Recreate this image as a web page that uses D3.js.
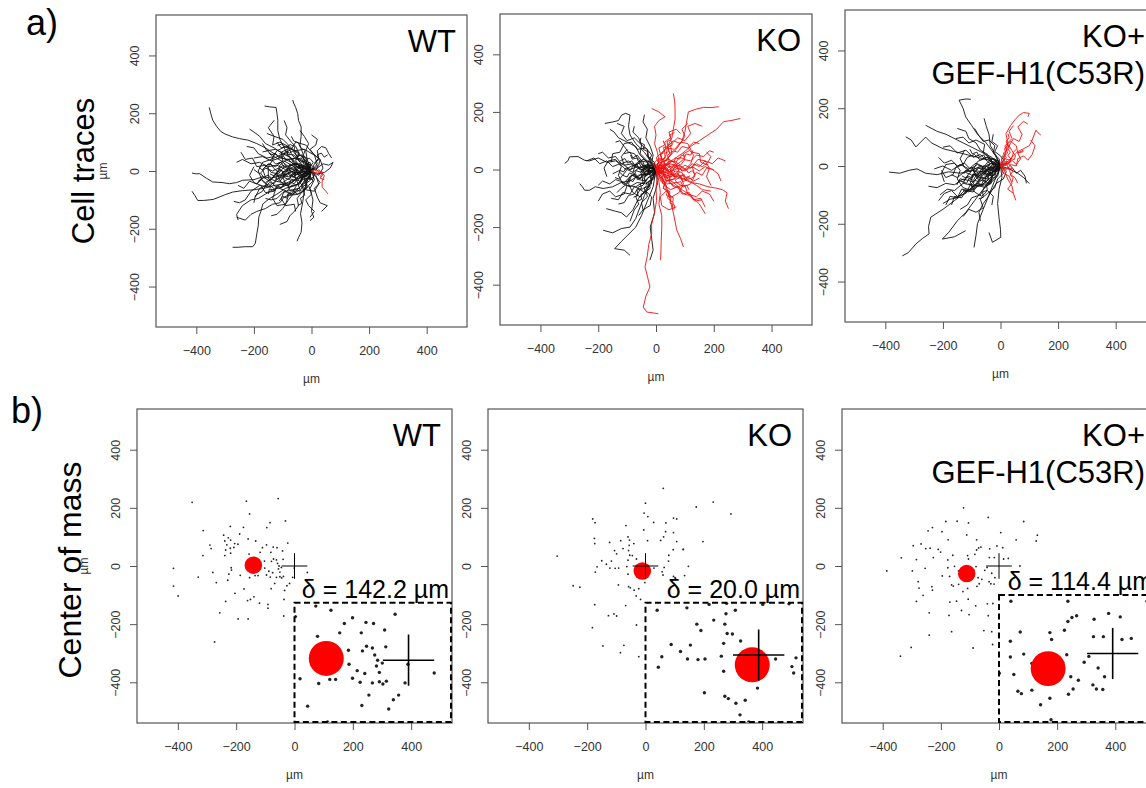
<!DOCTYPE html>
<html>
<head>
<meta charset="utf-8">
<script src="https://cdn.jsdelivr.net/npm/d3@7"></script>
<style>
  body { margin: 0; background: #fff; }
  svg { display: block; font-family: "Liberation Sans", Arial, sans-serif; }
</style>
</head>
<body>
<svg id="fig"></svg>
<script>
// ---- data (µm) ----
const axisDomain = [-540, 540];
const tickValues = [-400, -200, 0, 200, 400];
const conditions = [["WT"], ["KO"], ["KO+", "GEF-H1(C53R)"]];

// cell traces, flat x,y lists, one per cell
const wtBlack = [
  [0,0, -20,15, -45,10, -70,30, -100,45, -130,60, -160,80, -190,95, -221,107, -250,112, -274,118, -300,128, -314,136, -330,155, -343,176, -350,200, -355,220],
  [0,0, -10,20, -25,35, -30,60, -40,90, -36,120, -36,153, -45,175, -48,199, -55,220, -62,235, -65,246],
  [0,0, -15,-10, -40,5, -60,30, -80,55, -95,80, -110,110, -117,140, -117,176, -120,200, -123,220, -145,222, -163,225],
  [0,0, -20,-15, -50,-5, -80,-20, -110,-15, -140,-25, -170,-20, -200,-30, -239,-32, -260,-40, -285,-44, -310,-40, -343,-38, -365,-25, -389,-9, -400,-10, -415,-7],
  [0,0, -25,-20, -60,-30, -95,-45, -130,-50, -165,-60, -200,-65, -240,-68, -274,-73, -300,-82, -320,-90, -340,-98, -355,-100, -375,-102, -395,-102, -405,-85, -415,-70],
  [0,0, -30,-30, -55,-50, -90,-60, -120,-80, -145,-95, -169,-114, -176,-140, -183,-160, -185,-190, -190,-218, -195,-250, -204,-262, -230,-262, -255,-264, -274,-264],
  [0,0, -15,-35, -25,-70, -30,-105, -38,-148, -33,-180, -36,-212, -45,-230, -50,-243],
  [0,0, 10,-30, -5,-60, 5,-100, 0,-140, 8,-160, -5,-172],
  [0,0, -20,25, -45,40, -60,70, -85,95, -100,110, -130,120, -150,150, -129,176],
  [0,0, 20,10, 40,25, 60,20, 75,30, 65,10, 45,-5, 20,-10],
  [0,0, -10,-20, -30,-45, -60,-75, -80,-100, -100,-130, -120,-150, -140,-155],
  [0,0, -30,10, -60,15, -90,5, -120,20, -150,15, -180,30, -210,25, -240,40, -260,30],
  [0,0, -15,40, -20,70, -10,95, -25,120, -40,140],
  [0,0, -20,-5, -45,-25, -70,-20, -100,-40, -125,-35, -150,-55, -180,-50, -210,-70, -230,-100, -250,-110, -270,-105],
  [0,0, 15,-20, 30,-40, 10,-60, 20,-90, 30,-110, 55,-120, 35,-140],
  [0,0, -25,15, -55,25, -80,15, -105,35, -130,50, -155,45, -185,60, -200,80, -225,85],
  [0,0, -10,-25, -35,-30, -55,-55, -70,-80, -95,-90, -110,-110, -135,-115, -160,-130, -190,-140, -210,-150, -230,-170, -260,-160],
  [0,0, -35,-5, -60,-15, -75,5, -95,-5, -115,10, -135,0, -160,10, -180,-10, -200,5],
  [0,0, -20,35, -40,55, -55,85, -70,100, -90,125, -85,150, -95,175],
  [0,0, -5,-15, -20,-35, -15,-55, -35,-75, -50,-95, -45,-120, -60,-140, -75,-155, -85,-175, -110,-185],
  [0,0, -40,-15, -70,-40, -100,-55, -135,-65, -160,-80, -185,-95, -210,-100, -240,-120, -260,-150, -255,-170],
  [0,0, 10,25, 25,45, 20,70, 35,85, 50,80, 60,60, 70,45],
  [0,0, -45,20, -70,45, -100,60, -130,80, -160,95, -180,120, -200,135, -215,145],
  [0,0, -25,-10, -50,5, -85,-10, -110,-35, -130,-20, -155,-40, -170,-70, -195,-85, -200,-110],
  [0,0, -15,10, -25,-10, -45,-15, -55,10, -75,25, -85,0, -100,-20, -90,-45, -110,-60],
  [0,0, -5,30, -25,20, -35,45, -55,40, -70,60, -80,85, -105,80, -120,100],
  [0,0, 10,-10, 5,-30, -20,-25, -35,-50, -25,-70, -50,-80, -70,-65],
  [0,0, -30,-20, -40,-45, -70,-50, -85,-70, -100,-75, -120,-95, -140,-100, -160,-95],
  [0,0, 25,20, 30,40, 10,55, -5,75, 15,90, 20,110, 0,125],
  [0,0, -20,5, -35,25, -60,20, -80,40, -110,45, -140,35, -170,50, -200,45],
  [0,0, -10,-10, 5,-35, -10,-50, 0,-80, -20,-100, -10,-120, 10,-140, -5,-160],
  [0,0, -12,8, -20,-6, -35,2, -42,18, -58,12, -66,-4, -80,6, -92,22, -108,14, -115,-4, -130,8, -142,26, -158,18, -170,2, -182,14],
  [0,0, -8,-12, -22,-8, -30,-24, -46,-18, -55,-34, -70,-28, -78,-46, -94,-40, -104,-58, -120,-50, -128,-68, -146,-62, -150,-80],
  [0,0, -14,14, -10,30, -26,38, -34,56, -50,50, -62,66, -58,84, -74,92, -88,80, -102,94, -118,88],
  [0,0, 8,12, -4,24, -18,18, -24,34, -40,30, -48,46, -44,64, -60,72, -76,62, -90,70, -96,54, -112,60],
  [0,0, -18,-4, -26,-20, -44,-14, -52,-2, -70,-12, -76,-30, -92,-24, -100,-8, -118,-16, -126,-34, -142,-28, -160,-40, -174,-30, -190,-44],
  [0,0, -6,-20, -20,-30, -16,-46, -32,-54, -40,-70, -56,-64, -64,-82, -80,-76, -86,-94, -100,-88, -112,-104],
  [0,0, -20,10, -34,4, -44,22, -62,26, -70,42, -88,38, -98,52, -114,46, -126,62, -140,54, -152,70, -170,66],
  [0,0, 10,-6, 6,-22, -8,-28, -14,-14, -28,-20, -36,-38, -50,-30, -60,-44, -74,-38, -82,-56, -70,-70, -84,-84],
  [0,0, -10,6, -24,-2, -30,14, -48,8, -56,-8, -72,0, -84,-16, -98,-6, -110,-22, -126,-12, -138,-26, -150,-14, -166,-22, -176,-8],
  [0,0, -4,16, 6,30, -6,44, -20,40, -28,56, -22,72, -38,80, -46,98, -62,104, -70,120],
  [0,0, -16,-8, -28,4, -40,-10, -54,-4, -60,-20, -76,-16, -84,2, -100,-4, -104,-22, -120,-28, -130,-44, -146,-40, -160,-56],
  [0,0, 4,10, 16,2, 22,16, 12,30, 26,40, 20,56, 34,62, 44,48, 56,56],
  [0,0, -12,-16, -4,-32, -18,-42, -14,-58, -28,-66, -24,-84, -38,-94, -34,-112, -48,-120],
  [0,0, -22,16, -40,12, -52,28, -70,22, -80,8, -96,14, -106,30, -124,24, -138,38, -130,54, -148,62],
  [0,0, -10,-4, -18,10, -32,6, -38,-8, -52,-14, -58,2, -74,8, -80,-8, -96,-14, -104,2, -120,-2, -128,-18, -144,-10],
  [0,0, -20,30, -50,45, -85,40, -110,20, -120,-10, -105,-40, -75,-55, -45,-45, -30,-20, -50,5, -80,10, -100,-5],
  [0,0, -15,-35, -45,-60, -85,-70, -125,-55, -150,-25, -150,15, -130,45, -95,60, -60,55, -40,30],
  [0,0, 20,25, 10,55, -25,75, -60,70, -90,85, -120,70, -140,40, -170,30, -185,0, -170,-35, -140,-60],
  [0,0, -30,-10, -40,-40, -20,-65, 10,-70, 25,-45, 15,-15, -10,10, -40,25, -70,20, -95,35, -120,25],
  [0,0, -10,15, -40,20, -60,0, -55,-30, -80,-50, -110,-45, -130,-70, -160,-75, -175,-50, -200,-40, -215,-15, -200,15],
  [0,0, 25,-15, 40,10, 30,40, 5,60, -20,90, -55,100, -70,75, -95,60, -125,75, -155,70, -170,95],
  [0,0, -25,-20, -20,-55, -45,-80, -80,-85, -90,-115, -120,-120, -135,-95, -125,-65, -150,-45, -180,-60, -195,-90],
  [0,0, -35,10, -55,35, -45,60, -75,80, -105,65, -100,35, -125,15, -150,25, -170,5, -160,-20, -185,-35],
  [0,0, -5,-25, -30,-15, -50,-35, -40,-65, -65,-80, -95,-70, -105,-95, -90,-120, -60,-115, -55,-140],
  [0,0, -20,20, -15,45, -40,55, -65,40, -85,55, -80,85, -110,100, -135,90, -130,120, -155,130],
  [0,0, -45,-5, -65,20, -95,15, -115,-10, -140,-5, -160,20, -190,15, -205,45, -230,40, -245,65],
  [0,0, -15,-10, -35,5, -60,-20, -80,-5, -105,-25, -125,-10, -145,-35, -170,-20, -190,-45, -215,-35, -235,-60, -255,-50]
];
const wtRed = [
  [0,0, 15,5, 28,-3, 45,-15, 37,-35, 37,-56, 50,-70, 57,-79],
  [0,0, 20,-8, 35,0, 40,-12, 30,-25, 45,-30],
  [0,0, 12,-10, 25,5, 38,-8, 30,-20]
];

const koBlack = [
  [0,0, -25,10, -50,0, -80,20, -110,15, -140,30, -170,25, -200,40, -230,30, -247,32, -270,45, -299,44, -305,30, -316,21],
  [0,0, -30,-15, -60,-20, -90,-40, -120,-45, -150,-60, -183,-66, -210,-60, -230,-72, -247,-72, -255,-60, -264,-49],
  [0,0, -20,30, -40,60, -70,90, -90,120, -95,150, -90,189, -105,195, -119,189, -130,170, -150,165, -177,160],
  [0,0, -15,-40, -35,-70, -60,-100, -80,-140, -102,-165, -120,-150, -140,-145, -172,-136],
  [0,0, -20,-50, -40,-90, -55,-130, -70,-170, -90,-200, -120,-205, -150,-220, -183,-211],
  [0,0, -10,-60, -30,-110, -50,-160, -70,-200, -100,-230, -120,-250, -143,-275, -110,-280, -90,-298],
  [0,0, 5,-50, -10,-100, -5,-150, -20,-200, -15,-240, -10,-280, -21,-315],
  [0,0, -30,25, -55,50, -70,80, -100,95, -130,110, -145,130, -160,140],
  [0,0, -15,20, -10,50, -20,80, -35,110, -30,140, -45,165, -40,190],
  [0,0, -35,-5, -55,-30, -85,-20, -110,-45, -140,-35, -160,-50, -185,-40, -200,-55],
  [0,0, -20,15, -40,5, -55,25, -75,10, -95,30, -120,20, -140,45, -165,40, -185,60, -200,55],
  [0,0, -10,-20, -30,-30, -45,-55, -60,-60, -75,-85, -95,-90, -110,-115, -130,-120],
  [0,0, -25,-5, -40,15, -60,5, -80,-10, -100,0, -115,-20, -130,-5, -150,-15],
  [0,0, -5,25, -25,40, -30,70, -50,85, -60,110, -80,130, -75,150],
  [0,0, -20,-25, -15,-50, -35,-70, -30,-95, -50,-115, -45,-140, -60,-160],
  [0,0, -40,10, -60,35, -75,55, -95,60, -110,80, -125,100, -140,95],
  [0,0, -15,-10, -35,-5, -45,-25, -65,-35, -70,-15, -90,-25, -100,-50, -120,-65, -135,-80],
  [0,0, -10,10, -25,0, -20,-15, -35,-20, -45,0, -55,-10],
  [0,0, -5,-30, -25,-45, -20,-65, -40,-80, -55,-70, -70,-95, -60,-120, -75,-140, -90,-180],
  [0,0, -20,5, -30,25, -50,30, -65,50, -80,40, -90,60, -110,55],
  [0,0, -12,10, -24,0, -36,14, -50,6, -58,22, -74,16, -84,30, -98,22, -108,38, -124,30],
  [0,0, -10,-12, -24,-6, -32,-22, -46,-16, -54,-32, -70,-26, -80,-42, -94,-34, -104,-50, -120,-44],
  [0,0, -6,14, -20,22, -16,38, -30,46, -28,62, -44,70, -40,86, -56,94, -52,110],
  [0,0, -14,-4, -20,-18, -34,-12, -42,-28, -38,-44, -54,-50, -50,-66, -66,-72, -62,-90, -78,-96],
  [0,0, -18,6, -30,-4, -44,4, -52,-10, -68,-4, -76,-18, -92,-12, -100,-26, -116,-20, -126,-34, -142,-28],
  [0,0, -8,8, -20,4, -26,18, -40,14, -46,28, -60,26, -66,40, -82,36, -88,50],
  [0,0, -4,-14, -18,-20, -14,-36, -28,-42, -26,-58, -40,-64, -38,-80, -52,-86, -50,-104, -66,-110],
  [0,0, -16,2, -22,16, -38,12, -44,-2, -60,4, -66,18, -80,12, -88,-2, -104,6, -112,-8, -128,-2],
  [0,0, -20,25, -45,35, -70,20, -80,-10, -60,-35, -35,-40, -20,-20, -40,5, -65,10, -90,0, -110,15, -120,45, -100,70],
  [0,0, -10,-30, -35,-50, -65,-45, -90,-60, -115,-50, -130,-20, -120,10, -140,35, -165,30, -180,5, -170,-25],
  [0,0, -25,-10, -30,20, -15,50, -35,75, -65,70, -85,95, -110,90, -125,60, -150,55, -155,25],
  [0,0, -15,15, -40,0, -60,-25, -85,-20, -95,-50, -80,-80, -55,-95, -35,-75, -15,-95, -20,-125, -45,-140],
  [0,0, -30,5, -50,-15, -45,-45, -70,-60, -100,-55, -110,-85, -140,-95, -160,-75, -185,-85, -200,-110],
  [0,0, -5,20, -30,30, -55,55, -50,85, -75,110, -100,100, -120,125, -110,150, -135,160],
  [0,0, -35,-20, -55,0, -80,15, -105,0, -125,20, -150,10, -170,30, -195,20, -215,40, -240,30],
  [0,0, -10,-15, -25,-5, -40,-30, -30,-55, -50,-70, -75,-60, -90,-85, -115,-80, -130,-105, -155,-100]
];
const koRed = [
  [0,0, 10,30, 5,60, -5,90, 0,120, -5,150, 10,170, 31,183, 10,200, -15,212],
  [0,0, 20,25, 35,50, 40,80, 55,110, 60,140, 66,175, 66,206, 65,235, 60,264],
  [0,0, 25,20, 45,45, 70,70, 90,100, 100,130, 105,160, 112,200, 140,210, 165,216, 190,215, 217,218],
  [0,0, 30,15, 60,35, 90,55, 120,80, 150,100, 180,120, 210,140, 234,166, 260,170, 292,177],
  [0,0, 30,-10, 60,-20, 90,-30, 120,-45, 150,-50, 180,-60, 210,-65, 230,-70, 246,-81, 240,-110, 251,-136],
  [0,0, 5,-30, 0,-60, 2,-107, -5,-150, -15,-190, -15,-223, -25,-260, -30,-300, -38,-338, -30,-370, -21,-408, -35,-440, -44,-478, -32,-495, -10,-498, 8,-501],
  [0,0, 10,-40, 15,-80, 10,-120, 20,-160, 20,-199, 18,-250, 16,-315],
  [0,0, 25,-35, 40,-70, 50,-110, 60,-150, 72,-211, 85,-240, 95,-269],
  [0,0, 30,-25, 60,-45, 90,-70, 120,-90, 150,-120, 170,-153],
  [0,0, 20,5, 40,-5, 60,10, 80,0, 100,15, 120,5, 140,20, 160,10, 180,25, 190,45, 175,60],
  [0,0, 15,15, 30,10, 45,30, 40,50, 60,65, 75,60, 90,80, 110,75, 130,95, 150,90],
  [0,0, 20,-15, 25,-35, 45,-40, 60,-60, 80,-65, 95,-85, 115,-90, 135,-110, 160,-105],
  [0,0, 10,10, 25,-5, 35,15, 50,5, 55,-20, 75,-15, 90,-35, 110,-25, 130,-40, 150,-30],
  [0,0, 5,20, 20,35, 15,55, 35,70, 30,95, 50,110, 45,130, 70,140, 85,125],
  [0,0, 15,-10, 10,-30, 30,-45, 25,-65, 45,-80, 40,-100, 60,-115, 55,-135],
  [0,0, 25,5, 45,20, 70,15, 95,35, 120,30, 140,50, 165,45, 185,65, 200,60],
  [0,0, 10,-5, 20,10, 40,20, 55,5, 70,25, 85,15, 100,35, 95,55, 115,65],
  [0,0, 20,-5, 35,-25, 55,-15, 75,-30, 95,-20, 115,-40, 140,-55, 160,-70, 190,-75],
  [0,0, -5,10, 10,25, 0,40, 15,55, 10,75, 30,85, 25,100],
  [0,0, 30,5, 50,-10, 75,5, 100,-5, 125,10, 150,-5, 170,10, 195,0, 215,-15, 225,-40],
  [0,0, 12,8, 20,-4, 34,4, 40,-10, 54,-4, 60,-18, 74,-10, 82,-24, 96,-16, 104,-30, 118,-22],
  [0,0, 8,12, 22,6, 28,20, 42,16, 48,30, 62,26, 68,40, 82,36, 88,50, 102,46],
  [0,0, 14,-10, 10,-24, 24,-32, 22,-48, 36,-54, 34,-70, 48,-76, 46,-92, 60,-98, 58,-114],
  [0,0, 6,14, 20,18, 18,34, 32,40, 30,56, 44,62, 42,78, 56,84, 54,100],
  [0,0, 16,-2, 24,10, 38,6, 46,-8, 60,-2, 66,12, 80,8, 90,-6, 104,2, 112,-12, 126,-4, 134,-18],
  [0,0, 10,-14, 24,-10, 30,-24, 44,-20, 50,-36, 64,-32, 72,-46, 86,-42, 92,-58, 106,-54, 114,-70],
  [0,0, 4,-8, 18,-14, 26,-4, 40,-12, 46,-26, 60,-20, 70,-34, 84,-28, 92,-42, 108,-36],
  [0,0, 12,16, 6,30, 20,38, 16,52, 30,60, 26,76, 42,80, 38,96, 52,104, 48,120, 64,128],
  [0,0, 18,6, 30,20, 44,16, 56,30, 70,26, 80,42, 96,38, 104,54, 120,50, 128,66],
  [0,0, 6,-16, 20,-24, 16,-40, 30,-50, 26,-66, 40,-74, 36,-90, 52,-98, 48,-116, 64,-124, 62,-140],
  [0,0, 20,25, 45,35, 70,20, 80,-10, 60,-35, 35,-40, 25,-15, 45,10, 75,15, 100,0, 120,20, 130,50, 110,75],
  [0,0, 15,-30, 40,-50, 70,-45, 95,-60, 120,-50, 135,-20, 125,10, 145,35, 170,30, 185,5, 175,-25, 190,-55],
  [0,0, 25,-10, 30,20, 15,50, 35,75, 65,70, 85,95, 110,90, 125,60, 150,55, 155,25, 180,15],
  [0,0, 15,15, 40,0, 60,-25, 85,-20, 95,-50, 80,-80, 55,-95, 35,-75, 15,-95, 20,-125, 45,-140, 70,-130],
  [0,0, 30,5, 50,-15, 45,-45, 70,-60, 100,-55, 110,-85, 140,-95, 160,-75, 185,-85, 200,-110],
  [0,0, 5,20, 30,30, 55,55, 50,85, 75,110, 100,100, 120,125, 110,150, 135,160, 160,150],
  [0,0, 35,-20, 55,0, 80,15, 105,0, 125,20, 150,10, 170,30, 195,20, 215,40, 240,30],
  [0,0, 10,-15, 25,-5, 40,-30, 30,-55, 50,-70, 75,-60, 90,-85, 115,-80, 130,-105, 155,-100, 170,-130],
  [0,0, -10,20, 10,40, 35,30, 50,50, 40,80, 60,100, 85,90, 100,115, 90,140, 110,160],
  [0,0, 20,-5, 30,-30, 55,-25, 65,-5, 90,-10, 100,-35, 125,-30, 140,-10, 160,-20, 175,5, 200,0]
];

const rescueBlack = [
  [0,0, -30,-10, -60,-20, -100,-15, -140,-25, -180,-20, -220,-30, -260,-25, -290,-10, -318,-15, -350,-25, -387,-21],
  [0,0, -40,20, -80,30, -120,40, -160,50, -200,60, -240,80, -260,100, -294,66, -310,90, -329,101],
  [0,0, -30,30, -70,50, -110,70, -150,90, -190,110, -220,120, -260,141],
  [0,0, -20,40, -50,80, -80,110, -100,140, -121,170, -130,200, -144,228, -120,232, -103,231],
  [0,0, -15,35, -35,70, -40,110, -50,140, -57,165],
  [0,0, -40,-30, -80,-60, -120,-90, -160,-120, -200,-150, -242,-177, -250,-210, -248,-235, -270,-250, -294,-270, -320,-300, -341,-311],
  [0,0, -30,-40, -60,-80, -90,-120, -120,-160, -150,-190, -180,-230, -202,-253, -160,-245, -121,-224],
  [0,0, -20,-50, -40,-100, -60,-150, -80,-200, -85,-240, -92,-282],
  [0,0, 5,-40, -5,-80, -10,-130, -5,-180, 0,-220, 1,-247, -28,-264, -40,-230],
  [0,0, 30,-10, 60,-25, 80,-40, 100,-61],
  [0,0, -30,10, -55,-5, -85,10, -110,-10, -140,5, -170,-15, -200,0, -230,-10],
  [0,0, -25,-20, -50,-45, -80,-40, -105,-65, -130,-60, -160,-85, -185,-80, -210,-100],
  [0,0, -10,-30, -35,-55, -55,-75, -70,-100, -100,-110, -115,-135, -140,-150],
  [0,0, -25,25, -45,15, -70,40, -95,30, -120,55, -150,45, -175,70, -200,65],
  [0,0, -20,-10, -45,5, -60,-15, -85,-30, -100,-5, -125,-20, -150,-40, -170,-30],
  [0,0, -10,20, -30,15, -45,40, -70,55, -85,80, -110,95, -120,120, -150,130],
  [0,0, 20,-20, 10,-45, -15,-60, -30,-85, -45,-110, -60,-130, -75,-160, -70,-190],
  [0,0, 25,10, 40,-5, 55,-25, 70,-15, 85,-35, 90,-60],
  [0,0, -35,-5, -70,-30, -95,-55, -130,-45, -160,-65, -190,-60, -220,-75, -250,-70],
  [0,0, -15,-15, -40,-25, -45,-50, -70,-70, -90,-65, -110,-90, -130,-85],
  [0,0, -5,25, -25,45, -20,70, -40,90, -60,85, -75,105, -90,130],
  [0,0, -30,-35, -55,-25, -80,-55, -95,-80, -125,-85, -150,-110, -175,-115, -200,-130],
  [0,0, 15,15, 0,35, -20,50, -10,70, -30,85, -25,110],
  [0,0, -14,-6, -22,-20, -38,-14, -46,-30, -62,-24, -70,-40, -86,-34, -94,-50, -110,-44, -118,-60, -134,-54],
  [0,0, -10,8, -26,2, -32,16, -48,10, -56,-4, -72,2, -80,-12, -96,-6, -104,-20, -120,-14, -128,-28],
  [0,0, -6,-14, -20,-22, -18,-38, -34,-44, -32,-60, -48,-68, -46,-84, -62,-90, -60,-108, -76,-114],
  [0,0, -16,4, -24,-10, -40,-6, -48,-22, -64,-16, -72,-32, -88,-26, -98,-42, -114,-34, -124,-50, -140,-44, -150,-60],
  [0,0, -12,12, -28,10, -34,26, -50,22, -58,38, -74,32, -82,48, -98,42, -106,58],
  [0,0, -8,-6, -20,2, -30,-12, -44,-4, -52,-18, -66,-10, -74,-26, -88,-18, -96,-34, -110,-26, -120,-42, -134,-34],
  [0,0, -18,-12, -16,-28, -32,-36, -30,-52, -46,-58, -58,-48, -66,-64, -82,-58, -90,-74, -104,-68],
  [0,0, -4,10, -18,16, -24,4, -38,10, -44,-4, -58,2, -64,-12, -80,-6, -86,-20, -100,-14, -108,-28, -122,-22],
  [0,0, -20,-2, -28,-16, -44,-10, -54,-24, -70,-18, -80,-34, -96,-28, -104,-44, -120,-38, -128,-56, -144,-50, -152,-66],
  [0,0, -10,-18, -26,-14, -30,-30, -46,-26, -52,-42, -68,-38, -74,-54, -90,-50, -96,-66, -112,-62],
  [0,0, -20,25, -50,30, -80,15, -95,-15, -80,-45, -50,-55, -30,-35, -50,-10, -80,-5, -105,-20, -125,-5, -140,25, -125,55],
  [0,0, -10,-35, -35,-60, -70,-65, -100,-85, -130,-75, -150,-45, -140,-15, -160,10, -190,5, -205,-25, -195,-55],
  [0,0, -25,-15, -30,-45, -55,-70, -85,-60, -110,-85, -135,-80, -150,-110, -175,-105, -190,-135],
  [0,0, -20,10, -45,-10, -70,-35, -95,-30, -105,-60, -90,-90, -65,-105, -45,-85, -25,-105, -30,-135],
  [0,0, -35,-5, -55,-25, -50,-55, -75,-70, -105,-65, -120,-95, -150,-105, -170,-85, -195,-95, -215,-120],
  [0,0, -10,20, -35,25, -60,45, -55,75, -85,90, -110,80, -130,100, -155,95],
  [0,0, -30,-25, -55,-10, -80,5, -105,-10, -125,10, -150,0, -170,20, -195,10, -215,30],
  [0,0, -15,-20, -30,-10, -45,-35, -35,-60, -55,-75, -80,-65, -95,-90, -120,-85, -135,-110, -160,-105, -170,-135],
  [0,0, -25,5, -45,30, -70,20, -90,40, -115,30, -130,5, -155,-5, -165,-30, -190,-40, -205,-15],
  [0,0, 10,-25, -10,-45, -20,-75, -45,-95, -70,-115, -60,-145, -85,-160, -110,-150, -130,-175]
];
const rescueRed = [
  [0,0, 10,20, 19,50, 25,80, 19,112, 35,140, 50,160, 65,176, 80,185, 100,182, 95,170],
  [0,0, 20,10, 40,30, 60,50, 80,60, 100,70, 110,90, 123,124, 130,115, 140,107],
  [0,0, 15,-20, 25,-45, 40,-70, 45,-95, 53,-119],
  [0,0, 25,5, 40,20, 55,5, 70,25, 60,45, 80,55],
  [0,0, 10,-10, 30,-5, 35,-30, 50,-40, 60,-60],
  [0,0, 5,15, 20,30, 10,45, 30,60, 25,80, 40,95, 30,120, 45,140],
  [0,0, 8,10, 18,2, 22,16, 32,10, 36,24, 26,36, 34,48, 24,60, 32,74],
  [0,0, 10,-6, 14,8, 24,2, 28,-12, 38,-6, 42,-20, 34,-32, 44,-40, 40,-56],
  [0,0, 6,12, 14,24, 8,36, 18,46, 14,60, 24,70, 20,86, 30,98, 26,112],
  [0,0, 12,4, 20,18, 30,12, 36,26, 48,22, 52,36, 44,46, 54,58],
  [0,0, 15,25, 35,20, 45,45, 30,70, 45,95, 65,85, 75,110, 60,135, 80,155, 95,145],
  [0,0, 20,-15, 35,5, 55,0, 60,25, 80,35, 95,20, 110,40, 120,70, 105,90],
  [0,0, 10,-25, 30,-35, 40,-60, 25,-80, 45,-95],
  [0,0, 5,30, 25,45, 15,70, 35,85, 55,70, 60,45, 80,50]
];

// end points (x, y) of each cell
const wtEnds = [
  -351,219, -165,223, -56,232, -154,179, -31,155, -84,149, -95,132, -313,122, -220,136, -175,133,
  -243,106, -227,97, -188,110, -239,86, -219,89, -205,77, -159,93, -133,86, -290,72, -286,60,
  -232,73, -220,61, -208,64, -194,75, -236,55, -314,36, -239,36, -219,44, -156,41, -118,47,
  -110,63, -96,73, -73,65, -60,63, -41,52, -23,79, -81,47, -72,24, -62,21, -58,9,
  -79,16, -39,23, -53,0, -55,-10, -50,-21, -50,-37, -62,-39, -75,-23, -88,-18, -102,-7,
  -96,-31, -83,-38, -125,-33, -135,-33, -154,-40, -186,-32, -217,-6, -216,-14, -225,-28, -229,-49,
  -268,-57, -280,-22, -330,-38, -415,-8, -415,-69, -399,-103, -204,-94, -173,-79, -161,-119, -151,-115,
  -139,-106, -120,-128, -91,-132, -91,-145, -80,-78, -68,-60, -44,-41, -38,-36, -26,-68, -17,-60,
  -34,-84, -6,-39, -1,-7, 44,-22, -236,-122, -256,-161, -193,-182, -159,-182, -37,-172, -36,-115,
  -45,-5, -103,17, -274,-261
];
const koEnds = [
  61,267, 232,220, 0,216, 174,203, -5,182, 8,170, -181,162, -173,149, 28,150, 70,148,
  96,165, 107,162, -67,139, -6,124, 69,118, 96,115, -60,100, 62,100, -175,95, -174,77,
  -123,81, -85,87, -55,89, -56,71, -40,77, 7,87, 52,88, 107,84, 197,84, -77,60,
  -106,53, -99,42, -58,53, 95,56, 130,57, -54,37, -45,36, -60,20, -31,24, -150,18,
  -117,17, -134,6, -166,-3, -122,-7, -104,-8, -92,-7, -64,-2, 80,37, 79,17, 64,-5,
  147,-1, -172,-21, -60,-28, 29,-7, 57,-20, 60,-31, 96,-36, 103,-42, 134,-33, -93,-65,
  -58,-71, -52,-75, -39,-83, -23,-78, -32,-103, -17,-115, -2,-57, -248,-68, -225,-73, -303,34,
  -174,-133, -68,-136, -127,-171, -108,-165, -99,-172, -182,-212, -146,-275, -86,-298, -74,-273, -31,-203,
  -23,-312, 293,179, 129,57, 101,-40
];
const rescueEnds = [
  -122,200, -37,167, -183,153, -144,154, -105,148, 85,153, -229,132, -244,121, -196,118, -111,107,
  6,115, -175,90, -77,90, 59,90, 128,86, -295,70, -268,76, -252,60, -237,61, -209,57,
  -201,48, -336,28, -284,22, -226,29, -176,21, -159,37, -108,36, -105,24, -77,55, -70,62,
  -62,65, -32,59, -7,69, 13,63, -83,40, -33,29, -16,29, 16,24, 32,26, -386,-17,
  -298,-17, -254,-8, -195,-34, -176,-6, -153,-1, -139,-17, -137,-29, -170,-36, -163,-65, -157,-69,
  -139,-63, -124,-88, -108,-77, -119,-49, -72,-40, -68,-61, -59,-46, -49,-15, -41,-5, -25,-25,
  -34,-54, -28,-61, -17,-62, -14,-40, -79,-2, -86,-15, -76,-70, -278,-54, -275,-76, -231,-71,
  -229,-83, -261,-101, -284,-122, -240,-161, -169,-124, -146,-121, -106,-114, -80,-137, -40,-130, -21,-129,
  -172,-170, -129,-153, -103,-167, -37,-171, 37,-121, -302,-280, -339,-310, -240,-238, -163,-226, -89,-282,
  -52,-222, -25,-226, -22,-270, 132,106, 72,0
];

const centroids = [[-141, 3], [-11, -17], [-111, -26]];
const deltas = [142.2, 20.0, 114.4];
const centroidRadius = 30;   // µm
const crossHalf = 44;        // µm

// ---- layout ----
const W = 1146, H = 788;
const rowA = { top: 0, bottom: 390 };
const rowB = { top: 390, bottom: 788 };
const boxesA = [
  { x: 156, y: 15, w: 311, h: 312, clipLeft: 0 },
  { x: 500, y: 14, w: 312, h: 311, clipLeft: 468 },
  { x: 845, y: 10, w: 311, h: 312, clipLeft: 813 }
];
const boxesB = [
  { x: 137, y: 409, w: 315, h: 314, clipLeft: 0 },
  { x: 488, y: 409, w: 315, h: 314, clipLeft: 453 },
  { x: 842, y: 409, w: 314, h: 314, clipLeft: 804 }
];
// inset: top edge (µm) and the point of the main plot where the magnified origin sits
const insets = [
  { top: -126, ox: 391, oy: -324 },
  { top: -126, ox: 388, oy: -306 },
  { top: -100, ox: 391, oy: -301 }
];

const svg = d3.select("#fig").attr("width", W).attr("height", H);
svg.append("rect").attr("width", W).attr("height", H).attr("fill", "#fff");
const defs = svg.append("defs");
defs.append("filter").attr("id", "soft")
  .attr("x", "-50%").attr("y", "-50%").attr("width", "200%").attr("height", "200%")
  .append("feGaussianBlur").attr("stdDeviation", 0.5);

const toPairs = flat => d3.range(0, flat.length, 2).map(i => [flat[i], flat[i + 1]]);

function frame(id, box, row, title) {
  defs.append("clipPath").attr("id", "crop-" + id).append("rect")
    .attr("x", box.clipLeft).attr("y", row.top)
    .attr("width", W - box.clipLeft).attr("height", row.bottom - row.top);
  defs.append("clipPath").attr("id", "plot-" + id).append("rect")
    .attr("x", box.x).attr("y", box.y).attr("width", box.w).attr("height", box.h);

  const g = svg.append("g").attr("clip-path", `url(#crop-${id})`);
  g.append("rect")
    .attr("x", box.clipLeft).attr("y", row.top)
    .attr("width", W - box.clipLeft).attr("height", row.bottom - row.top)
    .attr("fill", "#fff");

  const x = d3.scaleLinear().domain(axisDomain).range([box.x, box.x + box.w]);
  const y = d3.scaleLinear().domain(axisDomain).range([box.y + box.h, box.y]);

  // bottom axis
  g.append("g")
    .attr("transform", `translate(0,${box.y + box.h})`)
    .call(d3.axisBottom(x).tickValues(tickValues).tickSize(7).tickPadding(12).tickSizeOuter(0))
    .call(a => a.select(".domain").remove())
    .call(a => a.selectAll("line").attr("stroke", "#555"))
    .call(a => a.selectAll("text").attr("font-size", 12.5).attr("fill", "#333")
      .attr("font-family", "Liberation Sans, Arial, sans-serif"));

  // left axis, labels turned like R does
  g.append("g")
    .attr("transform", `translate(${box.x},0)`)
    .call(d3.axisLeft(y).tickValues(tickValues).tickSize(7).tickSizeOuter(0))
    .call(a => a.select(".domain").remove())
    .call(a => a.selectAll("line").attr("stroke", "#555"))
    .call(a => a.selectAll("text")
      .attr("x", null).attr("dy", null)
      .attr("text-anchor", "middle")
      .attr("transform", "translate(-17,0) rotate(-90)")
      .attr("font-size", 12.5).attr("fill", "#333")
      .attr("font-family", "Liberation Sans, Arial, sans-serif"));

  g.append("text")
    .attr("x", x(0)).attr("y", box.y + box.h + 56)
    .attr("text-anchor", "middle").attr("font-size", 12).attr("fill", "#333")
    .text("µm");
  g.append("text")
    .attr("transform", `translate(${box.x - 49},${y(0)}) rotate(-90)`)
    .attr("text-anchor", "middle").attr("font-size", 12).attr("fill", "#333")
    .text("µm");

  const plot = g.append("g").attr("clip-path", `url(#plot-${id})`);

  g.append("rect")
    .attr("x", box.x).attr("y", box.y).attr("width", box.w).attr("height", box.h)
    .attr("fill", "none").attr("stroke", "#555").attr("stroke-width", 1.2);

  const titleG = g.append("g");
  title.forEach((t, i) => {
    titleG.append("text")
      .attr("x", box.x + box.w - 11).attr("y", box.y + 37 + i * 37)
      .attr("text-anchor", "end").attr("font-size", 31).attr("fill", "#000")
      .text(t);
  });

  return { g, plot, x, y, titleG };
}

// ---- a) cell traces ----
const traceSets = [[wtBlack, wtRed], [koBlack, koRed], [rescueBlack, rescueRed]];
traceSets.forEach(([black, red], i) => {
  const f = frame("a" + i, boxesA[i], rowA, conditions[i]);
  const line = d3.line().x(d => f.x(d[0])).y(d => f.y(d[1]));
  f.plot.selectAll("path.black").data(black).join("path")
    .attr("class", "black")
    .attr("d", d => line(toPairs(d)))
    .attr("fill", "none").attr("stroke", "#111").attr("stroke-width", 0.9)
    .attr("stroke-linejoin", "round");
  f.plot.selectAll("path.red").data(red).join("path")
    .attr("class", "red")
    .attr("d", d => line(toPairs(d)))
    .attr("fill", "none").attr("stroke", "#ee1111").attr("stroke-width", 0.9)
    .attr("stroke-linejoin", "round");
  f.titleG.raise();
});

// ---- b) center of mass ----
const endSets = [wtEnds, koEnds, rescueEnds];
endSets.forEach((ends, i) => {
  const f = frame("b" + i, boxesB[i], rowB, conditions[i]);
  const pts = toPairs(ends);
  const [cx, cy] = centroids[i];

  f.plot.append("g").selectAll("circle").data(pts).join("circle")
    .attr("cx", d => f.x(d[0])).attr("cy", d => f.y(d[1]))
    .attr("r", 0.9).attr("fill", "#222");
  f.plot.append("circle")
    .attr("cx", f.x(cx)).attr("cy", f.y(cy))
    .attr("r", f.x(centroidRadius) - f.x(0)).attr("fill", "#ff0000");
  const cross = (sel, xs, ys, w) => {
    sel.append("line").attr("x1", xs(-crossHalf)).attr("x2", xs(crossHalf))
      .attr("y1", ys(0)).attr("y2", ys(0)).attr("stroke", "#000").attr("stroke-width", w);
    sel.append("line").attr("x1", xs(0)).attr("x2", xs(0))
      .attr("y1", ys(-crossHalf)).attr("y2", ys(crossHalf)).attr("stroke", "#000").attr("stroke-width", w);
  };
  cross(f.plot, f.x, f.y, 1);

  // magnified inset (2x) in the lower right corner
  const ins = insets[i];
  const xi = d3.scaleLinear().domain(axisDomain.map(d => (d - ins.ox) / 2)).range(f.x.range());
  const yi = d3.scaleLinear().domain(axisDomain.map(d => (d - ins.oy) / 2)).range(f.y.range());
  const ix0 = f.x(0), ix1 = boxesB[i].x + boxesB[i].w - 1;
  const iy0 = f.y(ins.top), iy1 = boxesB[i].y + boxesB[i].h - 1;
  defs.append("clipPath").attr("id", "inset-" + i).append("rect")
    .attr("x", ix0).attr("y", iy0).attr("width", ix1 - ix0).attr("height", iy1 - iy0);
  const inset = f.g.append("g");
  inset.append("rect")
    .attr("x", ix0).attr("y", iy0).attr("width", ix1 - ix0).attr("height", iy1 - iy0)
    .attr("fill", "#fff");
  const inner = inset.append("g").attr("clip-path", `url(#inset-${i})`);
  inner.append("g").attr("filter", "url(#soft)")
    .selectAll("circle").data(pts).join("circle")
    .attr("cx", d => xi(d[0])).attr("cy", d => yi(d[1]))
    .attr("r", 1.7).attr("fill", "#222");
  inner.append("circle")
    .attr("cx", xi(cx)).attr("cy", yi(cy))
    .attr("r", xi(centroidRadius) - xi(0)).attr("fill", "#ff0000")
    .attr("filter", "url(#soft)");
  cross(inner, xi, yi, 1.6);
  inset.append("rect")
    .attr("x", ix0).attr("y", iy0).attr("width", ix1 - ix0).attr("height", iy1 - iy0)
    .attr("fill", "none").attr("stroke", "#000").attr("stroke-width", 2)
    .attr("stroke-dasharray", "6,3.5");

  f.g.append("text")
    .attr("x", ix1 - 2).attr("y", iy0 - 5)
    .attr("text-anchor", "end").attr("font-size", 25).attr("fill", "#000")
    .text(`δ = ${d3.format(".1f")(deltas[i])} µm`);
  f.titleG.raise();
});

// ---- row labels ----
svg.append("text").attr("x", 26).attr("y", 35).attr("font-size", 36).text("a)");
svg.append("text").attr("x", 11).attr("y", 423).attr("font-size", 36).text("b)");
svg.append("text")
  .attr("transform", "translate(94,171) rotate(-90)")
  .attr("text-anchor", "middle").attr("font-size", 31).text("Cell traces");
svg.append("text")
  .attr("transform", "translate(81,570) rotate(-90)")
  .attr("text-anchor", "middle").attr("font-size", 32).text("Center of mass");
</script>
</body>
</html>
